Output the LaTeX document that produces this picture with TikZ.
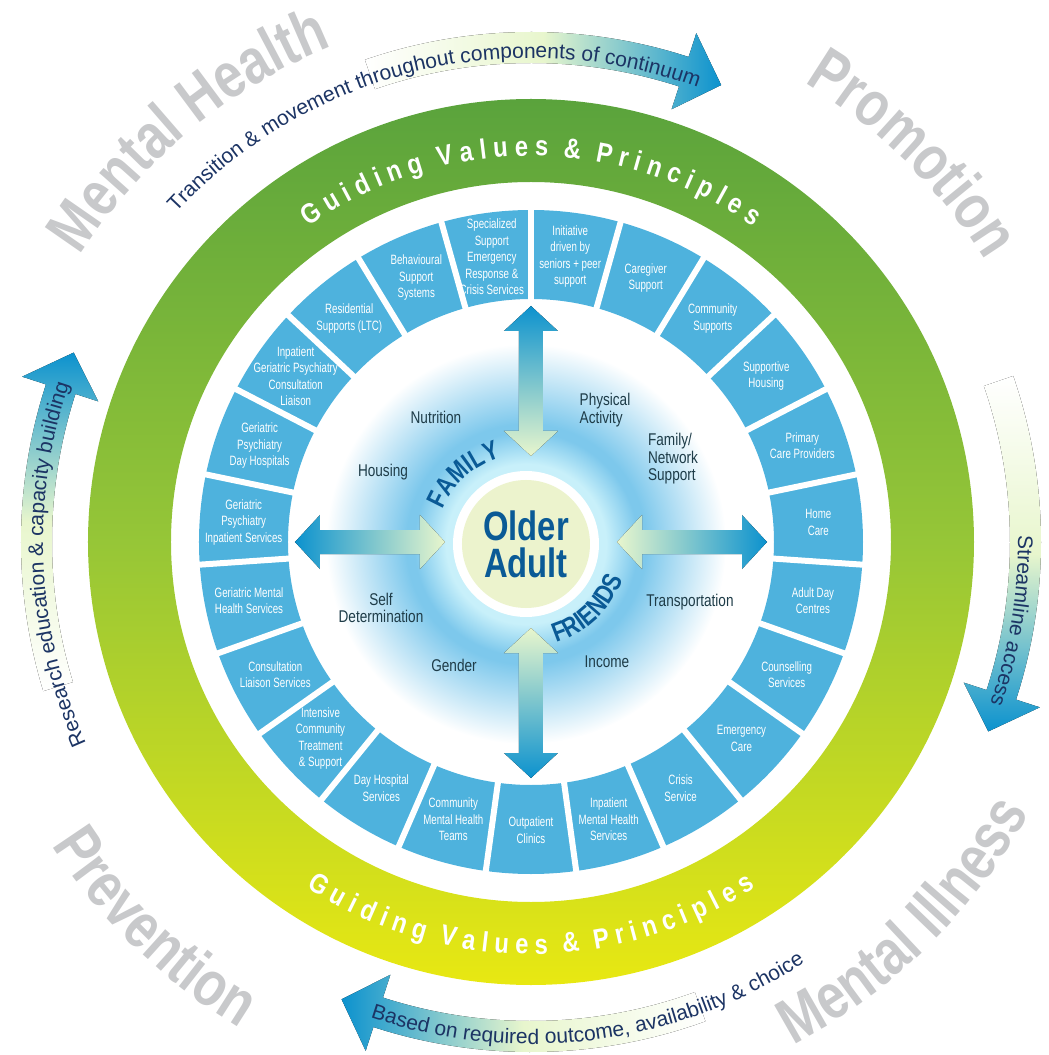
\documentclass[tikz,border=0pt]{standalone}
\usepackage{fontspec}
\setmainfont{Liberation Sans}[FakeStretch=0.8]
\newfontfamily\segfont{Liberation Sans}[FakeStretch=0.72]
\newfontfamily\arcfont{Liberation Sans}
\newfontfamily\guidefont{Liberation Sans}[FakeStretch=0.85]
\usepackage{xcolor}
\usepackage{tikz}
\usetikzlibrary{decorations.text}
\definecolor{segblue}{RGB}{78,178,221}
\definecolor{ringtop}{RGB}{90,163,60}
\definecolor{ringmid}{RGB}{150,198,55}
\definecolor{ringbot}{RGB}{232,232,18}
\definecolor{greylabel}{RGB}{200,201,203}
\definecolor{navy}{RGB}{28,52,100}
\definecolor{arrowblue}{RGB}{12,146,206}
\definecolor{arrowpale}{RGB}{232,246,205}
\definecolor{olderblue}{RGB}{10,90,150}
\definecolor{labelteal}{RGB}{30,60,72}
\definecolor{discpale}{RGB}{236,243,205}
\definecolor{ringcyan}{RGB}{200,240,250}
\definecolor{haloblue}{RGB}{125,200,236}
\pgfdeclareradialshading{halo}{\pgfpoint{0bp}{0bp}}{color(0bp)=(ringcyan); color(10bp)=(ringcyan); color(14bp)=(haloblue); color(15bp)=(haloblue); color(25bp)=(white); color(50bp)=(white)}
\tikzset{
  seglabel/.style={text=white, align=center, inner sep=0pt, font=\segfont\fontsize{13.5}{16.5}\selectfont},
  innerlabel/.style={text=labelteal, inner sep=0pt, font=\fontsize{17}{17.5}\selectfont},
  arrow n/.style={top color=arrowblue, bottom color=arrowpale},
  arrow s/.style={top color=arrowpale, bottom color=arrowblue},
  arrow e/.style={left color=arrowpale, right color=arrowblue},
  arrow w/.style={left color=arrowblue, right color=arrowpale},
  oarrow n/.style={left color=white, right color=arrowblue, middle color=arrowpale},
  oarrow e/.style={top color=white, bottom color=arrowblue, middle color=arrowpale},
  oarrow s/.style={left color=arrowblue, right color=white, middle color=arrowpale},
  oarrow w/.style={top color=arrowblue, bottom color=white, middle color=arrowpale}
}

\begin{document}
\begin{tikzpicture}[x=1pt,y=1pt]
\useasboundingbox (-531,-513) rectangle (518,542);

% outer arrows round the continuum
\foreach \s/\b/\t/\st in {109/72/67.4/oarrow n, 19/-18/-22.5/oarrow e, 290/252/247.5/oarrow s, 197/162/157.5/oarrow w}
  \fill[\st] (\s:510) arc[start angle=\s, end angle=\b, radius=510] -- (\b:535) -- (\t:495) -- (\b:455) -- (\b:479) arc[start angle=\b, end angle=\s, radius=479] -- cycle;
\path[decorate, decoration={text along path, text align=center, text={|\arcfont\fontsize{21}{21}\selectfont\color{navy}|Transition {\&} movement throughout components of continuum}}]
  (150:484) arc[start angle=150, end angle=57, radius=484];
\path[decorate, decoration={text along path, text align=center, text={|\arcfont\fontsize{21}{21}\selectfont\color{navy}|Streamline access}}]
  (30:487) arc[start angle=30, end angle=-48.6, radius=487];
\path[decorate, decoration={text along path, text align=center, text={|\arcfont\fontsize{21}{21}\selectfont\color{navy}|Based on required outcome, availability {\&} choice}}]
  (230:502) arc[start angle=230, end angle=324.4, radius=502];
\path[decorate, decoration={text along path, text align=center, text={|\arcfont\fontsize{21}{21}\selectfont\color{navy}|Research education {\&} capacity building}}]
  (225:488) arc[start angle=225, end angle=140.5, radius=488];

% grey corner words
\path[decorate, decoration={text along path, text align=center, text={|\fontsize{64}{64}\selectfont\bfseries\color{greylabel}|Mental Health}}]
  (170:534) arc[start angle=170, end angle=89.4, radius=534];
\path[decorate, decoration={text along path, text align=center, text={|\fontsize{64}{64}\selectfont\bfseries\color{greylabel}|Promotion}}]
  (85.5:534) arc[start angle=85.5, end angle=5.5, radius=534];
\path[decorate, decoration={text along path, text align=center, text={|\fontsize{64}{64}\selectfont\bfseries\color{greylabel}|Prevention}}]
  (185.7:567) arc[start angle=185.7, end angle=265.7, radius=567];
\path[decorate, decoration={text along path, text align=center, text={|\fontsize{64}{64}\selectfont\bfseries\color{greylabel}|Mental Illness}}]
  (274.5:567) arc[start angle=274.5, end angle=354.5, radius=567];

% guiding values ring
\shade[top color=ringtop, bottom color=ringbot, middle color=ringmid, even odd rule] (0,0) circle (443) (0,0) circle (360);
\path[decorate, decoration={text along path, text align=center, text={|\guidefont\fontsize{28}{28}\selectfont\bfseries\color{white}|G u i d i n g{\kern15pt}V a l u e s{\kern15pt}{\&}{\kern15pt}P r i n c i p l e s}}]
  (160:386) arc[start angle=160, end angle=20, radius=386];
\path[decorate, decoration={text along path, text align=center, text={|\guidefont\fontsize{28}{28}\selectfont\bfseries\color{white}|G u i d i n g{\kern15pt}V a l u e s{\kern15pt}{\&}{\kern15pt}P r i n c i p l e s}}]
  (200:412) arc[start angle=200, end angle=340, radius=412];

% services ring
\fill[segblue, even odd rule] (0,0) circle (332) (0,0) circle (243);
\foreach \i in {0,...,22}
  \draw[white, line width=6] ({90-360/23*\i}:236) -- ({90-360/23*\i}:338);
\foreach \t [count=\i from 0] in {{Initiative\\driven by\\seniors + peer\\support}, {Caregiver\\Support}, {Community\\Supports}, {Supportive\\Housing}, {Primary\\Care Providers}, {Home\\Care}, {Adult Day\\Centres}, {Counselling\\Services}, {Emergency\\Care}, {Crisis\\Service}, {Inpatient\\Mental Health\\Services}, {Outpatient\\Clinics}, {Community\\Mental Health\\Teams}, {Day Hospital\\Services}, {Intensive\\Community\\Treatment\\\& Support}, {Consultation\\Liaison Services}, {Geriatric Mental\\Health Services}, {Geriatric\\Psychiatry\\Inpatient Services}, {Geriatric\\Psychiatry\\Day Hospitals}, {Inpatient\\Geriatric Psychiatry\\Consultation\\Liaison}, {Residential\\Supports (LTC)}, {Behavioural\\Support\\Systems}, {Specialized\\Support\\Emergency\\Response \&\\Crisis Services}}
  \node[seglabel] (seg\i) at ({90-360/23*(\i+0.5)}:288) {\t};

% glow round the older adult
\begin{scope}[shift={(-5,-2)}]
\shade[shading=halo] (0,0) circle (200);
\end{scope}

% two way arrows
\foreach \a/\st in {90/arrow n, 0/arrow e, -90/arrow s, 180/arrow w}
  \fill[\st] (\a:86) -- ([shift={(\a+90:27)}]\a:111) -- ([shift={(\a+90:12)}]\a:111) -- ([shift={(\a+90:12)}]\a:211) -- ([shift={(\a+90:27)}]\a:211) -- (\a:236) -- ([shift={(\a-90:27)}]\a:211) -- ([shift={(\a-90:12)}]\a:211) -- ([shift={(\a-90:12)}]\a:111) -- ([shift={(\a-90:27)}]\a:111) -- cycle;

\begin{scope}[shift={(-5,-2)}]
\fill[white] (0,0) circle (73);
\fill[discpale] (0,0) circle (64);
\node[text=olderblue, align=center, font=\fontsize{41}{37}\selectfont\bfseries] (older) at (0,0) {Older\\Adult};
\path[decorate, decoration={text along path, text align=center, text={|\fontsize{27}{27}\selectfont\bfseries\color{olderblue}|FAMILY}}]
  (172:90) arc[start angle=172, end angle=92, radius=90];
\path[decorate, decoration={text along path, text align=center, text={|\fontsize{27}{27}\selectfont\bfseries\color{olderblue}|FRIENDS}}]
  (-96.5:103) arc[start angle=-96.5, end angle=3.5, radius=103];
\end{scope}

% life factors
\node[innerlabel] (nutrition) at (-95,125) {Nutrition};
\node[innerlabel, align=left] (physical) at (74,132) {Physical\\Activity};
\node[innerlabel, align=left] (familynet) at (142,83) {Family/\\Network\\Support};
\node[innerlabel] (housing) at (-148,70) {Housing};
\node[innerlabel, align=center] (selfdet) at (-150,-66) {Self\\Determination};
\node[innerlabel] (gender) at (-77,-123) {Gender};
\node[innerlabel] (income) at (76,-120) {Income};
\node[innerlabel] (transport) at (159,-60) {Transportation};
\end{tikzpicture}
\end{document}
